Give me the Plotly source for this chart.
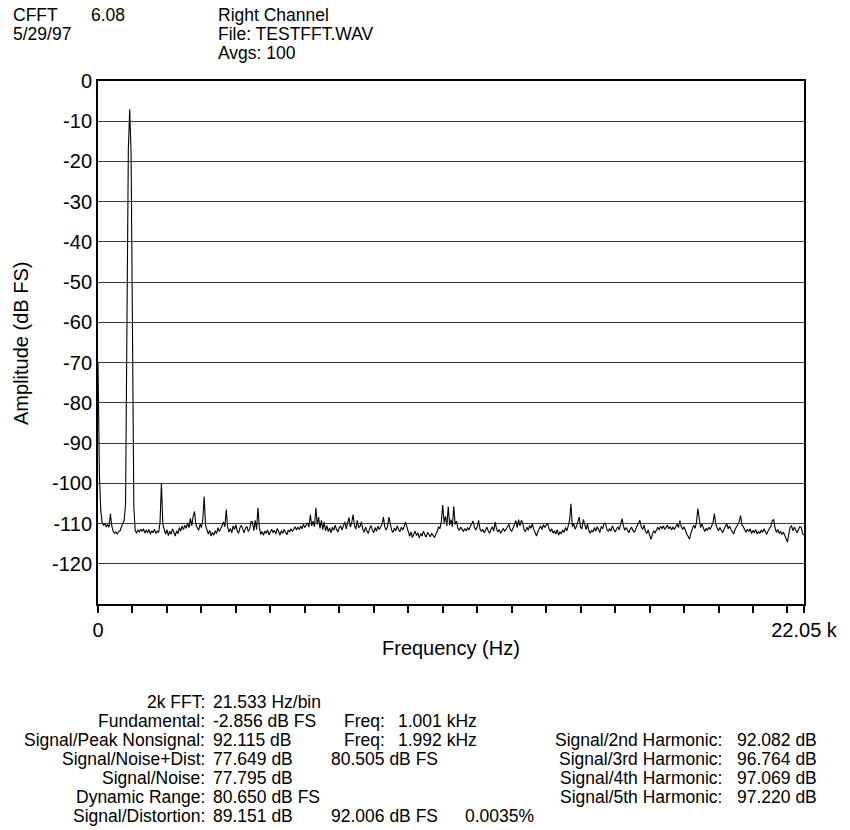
import plotly.graph_objects as go

# FFT analysis: 2k-point transform, averaged spectrum (right channel)
BIN_HZ = 21.533          # Hz per bin
BIN_STEP = 2             # spectrum listed every 2nd bin
NYQUIST_HZ = 22050

amp_db = [
    -70.0, -97.5, -106.8, -109.8, -110.4, -110.1, -110.8, -110.3, -110.9, -107.6, -110.6, -111.9, -112.4, -112.1, -112.6, -112.0,
    -111.8, -110.6, -109.9, -109.2, -105.0, -60.0, -17.0, -7.0, -18.0, -62.0, -106.0, -111.8, -112.3, -111.6, -112.1, -111.4,
    -112.0, -111.3, -112.4, -111.7, -112.2, -111.5, -112.6, -111.8, -112.3, -111.4, -112.5, -111.9, -112.2, -109.6, -100.0, -110.2,
    -111.2, -112.6, -111.5, -113.0, -111.9, -112.7, -111.3, -112.4, -113.1, -111.8, -112.5, -111.0, -111.9, -110.6, -111.5, -110.4,
    -111.2, -109.8, -111.0, -108.7, -110.6, -108.2, -107.0, -110.3, -111.2, -111.7, -110.2, -111.0, -109.0, -103.3, -110.5, -111.8,
    -112.6, -111.7, -113.1, -112.2, -112.9, -111.8, -112.5, -111.0, -112.0, -111.3, -110.4, -109.6, -110.8, -106.5, -110.9, -112.1,
    -111.2, -112.3, -110.6, -111.5, -110.3, -111.9, -112.4, -111.0, -110.5, -111.6, -112.3, -111.1, -110.8, -112.0, -111.4, -109.5,
    -109.6, -111.8, -109.2, -111.5, -106.1, -110.9, -112.7, -112.0, -112.9, -111.9, -112.4, -111.6, -112.8, -112.1, -111.4, -112.3,
    -111.7, -112.6, -111.2, -112.0, -112.9, -111.8, -112.4, -111.5, -112.2, -112.8, -111.6, -112.1, -111.3, -112.0, -111.4, -110.8,
    -111.6, -110.9, -111.5, -110.6, -111.3, -110.2, -111.0, -110.4, -109.8, -110.9, -107.8, -110.6, -109.4, -110.8, -106.1, -110.2,
    -108.4, -111.2, -109.2, -111.5, -109.6, -111.8, -110.5, -112.0, -111.1, -112.3, -110.9, -111.7, -110.4, -111.5, -112.1, -111.0,
    -110.6, -111.6, -110.8, -109.6, -111.3, -110.2, -108.5, -110.9, -109.8, -107.8, -110.5, -111.4, -109.2, -111.0, -110.7, -109.6,
    -111.4, -112.2, -110.9, -111.8, -112.5, -111.2, -110.5, -111.7, -112.3, -111.0, -111.9, -110.6, -111.5, -110.8, -110.2, -108.4,
    -110.9, -111.6, -110.7, -108.4, -110.5, -111.7, -112.2, -111.1, -111.8, -110.6, -111.5, -112.0, -110.9, -111.6, -110.8, -109.6,
    -110.8, -112.4, -113.2, -112.1, -113.5, -112.6, -111.9, -113.0, -112.3, -113.6, -112.5, -113.1, -111.9, -112.8, -113.4, -112.2,
    -112.9, -113.3, -112.4, -113.0, -113.5, -112.6, -112.0, -110.8, -111.3, -109.5, -105.4, -109.8, -108.2, -110.6, -105.8, -110.4,
    -109.0, -110.8, -105.7, -110.2, -109.4, -111.2, -111.7, -110.9, -111.5, -111.9, -111.3, -111.8, -111.1, -111.6, -110.7, -110.2,
    -109.4, -111.0, -111.6, -110.8, -109.2, -111.3, -112.0, -111.4, -112.3, -111.7, -110.9, -111.8, -112.4, -111.5, -110.8, -111.9,
    -109.6, -111.3, -112.1, -111.5, -112.4, -111.8, -111.2, -112.0, -111.4, -110.8, -110.2, -111.5, -111.9, -111.1, -110.4, -109.3,
    -111.0, -109.0, -110.6, -109.2, -109.8, -111.6, -112.0, -110.9, -111.7, -110.5, -111.2, -110.1, -111.4, -112.3, -113.1, -112.0,
    -111.4, -110.6, -111.5, -110.3, -111.0, -110.5, -109.9, -111.2, -112.0, -111.3, -112.4, -111.8, -112.6, -111.5, -112.9, -112.1,
    -112.5, -111.6, -112.2, -111.0, -111.8, -110.6, -109.2, -105.1, -110.8, -110.0, -111.4, -110.7, -109.4, -108.4, -110.9, -111.3,
    -109.0, -110.6, -111.5, -110.1, -111.8, -112.4, -111.6, -112.1, -111.0, -111.9, -110.8, -111.5, -112.2, -110.7, -111.3, -110.0,
    -109.9, -111.4, -112.0, -111.2, -111.9, -110.6, -111.3, -112.1, -111.5, -110.8, -111.6, -110.2, -108.8, -110.5, -111.7, -111.0,
    -111.8, -112.3, -111.4, -110.9, -111.7, -112.2, -111.3, -110.6, -110.0, -109.2, -110.8, -111.5, -110.4, -111.9, -112.5, -111.6,
    -112.8, -113.9, -112.7, -111.8, -112.3, -111.4, -110.9, -111.6, -110.7, -111.2, -110.6, -111.5, -111.0, -110.4, -111.3, -110.8,
    -111.6, -110.9, -111.4, -110.6, -110.2, -111.0, -109.3, -110.8, -111.5, -110.8, -111.9, -112.6, -113.2, -113.9, -112.4, -111.3,
    -110.4, -111.2, -109.8, -106.3, -109.5, -111.0, -110.1, -111.4, -112.0, -111.2, -111.7, -110.9, -111.5, -110.6, -109.8, -107.5,
    -110.2, -111.1, -111.8, -111.0, -111.7, -112.3, -111.4, -110.5, -110.0, -111.3, -110.6, -111.5, -112.1, -112.6, -111.5, -110.8,
    -110.3, -109.6, -108.0, -110.4, -110.8, -111.6, -112.2, -111.4, -112.0, -111.3, -112.5, -111.7, -112.3, -111.5, -112.6, -112.0,
    -112.4, -111.6, -112.2, -111.3, -112.0, -112.7, -111.8, -111.2, -110.6, -109.3, -109.0, -111.0, -112.2, -111.5, -112.4, -112.0,
    -112.7, -112.1, -113.0, -113.6, -114.6, -112.5, -110.9, -110.6, -111.8, -110.9, -111.6, -112.3, -111.5, -110.8, -110.9, -112.6,
    -112.9,
]
freq_hz = [i * BIN_STEP * BIN_HZ for i in range(len(amp_db))]

# axis ticks: every 50 bins, labelled only at the ends
x_tick_vals = [k * 50 * BIN_HZ for k in range(21)] + [NYQUIST_HZ]
x_tick_text = ["0"] + [""] * 20 + ["22.05 k"]
y_tick_vals = list(range(0, -130, -10))
y_tick_text = [str(v) for v in y_tick_vals]   # plain hyphen-minus labels

header_left = ["CFFT", "5/29/97"]
header_version = "6.08"
header_right = ["Right Channel", "File: TESTFFT.WAV", "Avgs: 100"]

stat_labels = ["2k FFT:", "Fundamental:", "Signal/Peak Nonsignal:", "Signal/Noise+Dist:",
               "Signal/Noise:", "Dynamic Range:", "Signal/Distortion:"]
stat_values = ["21.533 Hz/bin", "-2.856 dB FS", "92.115 dB", "77.649 dB",
               "77.795 dB", "80.650 dB FS", "89.151 dB"]
freq_rows = {1: "1.001 kHz", 2: "1.992 kHz"}
level_rows = {3: "80.505 dB FS", 6: "92.006 dB FS"}
thd_percent = "0.0035%"
harm_labels = ["Signal/2nd Harmonic:", "Signal/3rd Harmonic:",
               "Signal/4th Harmonic:", "Signal/5th Harmonic:"]
harm_values = ["92.082 dB", "96.764 dB", "97.069 dB", "97.220 dB"]

W, H = 850, 830
ML, MR, MT, MB = 98, 37, 81, 226
PW, PH = W - ML - MR, H - MT - MB
FONT = "Liberation Sans, Arial, Helvetica, sans-serif"


def px(x):
    return (x - ML) / PW


def py(y):
    return (H - MB - y) / PH


fig = go.Figure()
fig.add_trace(go.Scatter(x=freq_hz, y=amp_db, mode="lines",
                         line=dict(color="black", width=1.1), hoverinfo="skip"))

annotations = []


def text(x, y, s, anchor="left", size=17.5, angle=0):
    annotations.append(dict(x=px(x), y=py(y), xref="paper", yref="paper", text=s,
                            showarrow=False, xanchor=anchor, yanchor="middle",
                            textangle=angle, font=dict(family=FONT, size=size, color="black")))


# header block
text(10, 15, header_left[0])
text(89, 15, header_version)
text(10, 34, header_left[1])
for k, s in enumerate(header_right):
    text(218, 15 + 19 * k, s)

# axis titles
text(455, 648, "Frequency (Hz)", anchor="center", size=20)
text(20, 343, "Amplitude (dB FS)", anchor="center", size=20, angle=-90)

# measurement summary
row_y = [702 + 19 * k for k in range(len(stat_labels))]
for k, (lab, val) in enumerate(zip(stat_labels, stat_values)):
    text(208, row_y[k], lab, anchor="right")
    text(212, row_y[k], val)
for k, val in freq_rows.items():
    text(345, row_y[k], "Freq:")
    text(400, row_y[k], val)
for k, val in level_rows.items():
    text(332, row_y[k], val)
text(468, row_y[6], thd_percent)
for k, (lab, val) in enumerate(zip(harm_labels, harm_values)):
    text(732, row_y[k + 2], lab, anchor="right")
    text(743, row_y[k + 2], val)

fig.update_layout(
    width=W, height=H, autosize=False,
    margin=dict(l=ML, r=MR, t=MT, b=MB, pad=0),
    paper_bgcolor="white", plot_bgcolor="white",
    showlegend=False,
    font=dict(family=FONT, size=20, color="black"),
    annotations=annotations,
    xaxis=dict(range=[0, NYQUIST_HZ], tickmode="array", tickvals=x_tick_vals,
               ticktext=x_tick_text, ticks="outside", ticklen=7, tickwidth=2,
               tickcolor="black", showline=True, linecolor="black", linewidth=2,
               mirror=True, showgrid=False, zeroline=False,
               tickfont=dict(family=FONT, size=20)),
    yaxis=dict(range=[-130, 0], tickmode="array", tickvals=y_tick_vals,
               ticktext=y_tick_text, ticks="", showline=True, linecolor="black",
               linewidth=2, mirror=True, showgrid=True, gridcolor="#3a3a3a",
               gridwidth=1, zeroline=False, tickfont=dict(family=FONT, size=20)),
)

fig.write_html("out.html")
